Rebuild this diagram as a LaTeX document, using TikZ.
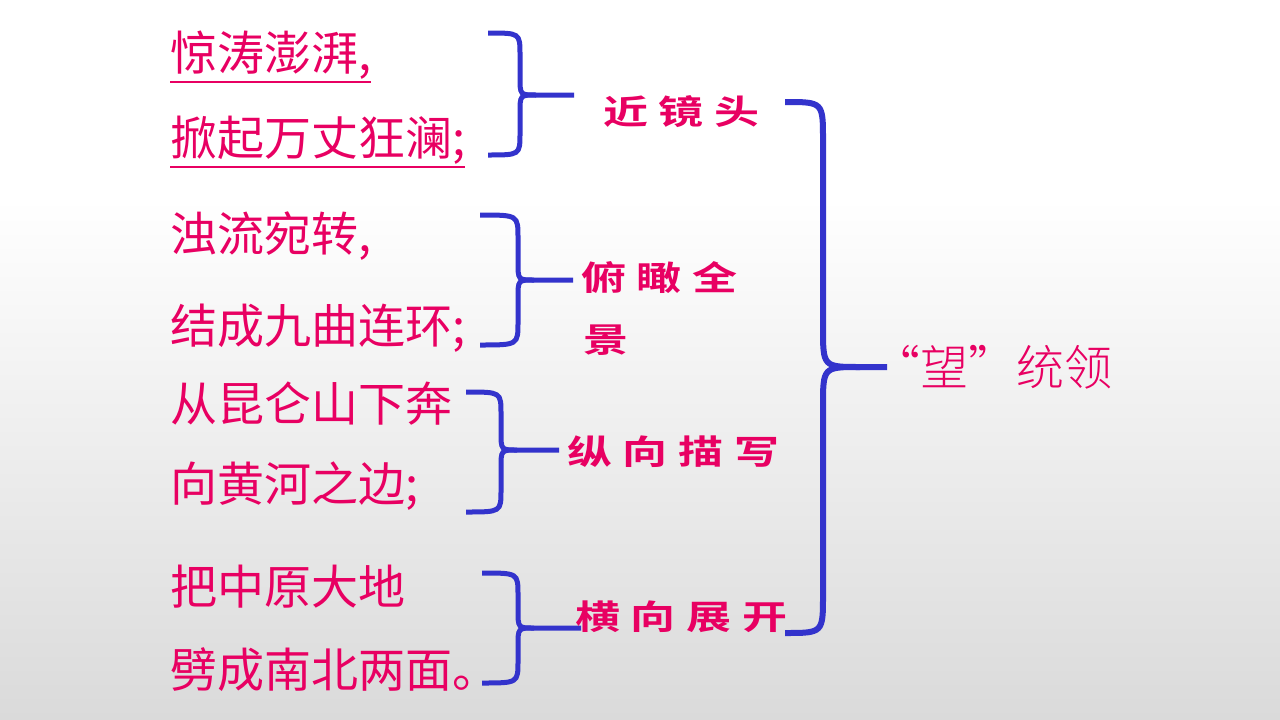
\documentclass[tikz,border=0pt]{standalone}
\usepackage{fontspec}
\newfontfamily\cjk{Noto Sans CJK SC}
\newfontfamily\cjklabel{Noto Sans CJK SC Bold}[LetterSpace=24]
\newfontfamily\cjkthin{Noto Sans CJK SC Light}
\usetikzlibrary{calc}

\definecolor{rose}{RGB}{232,0,98}
\definecolor{braceblue}{RGB}{51,51,204}
\definecolor{bggray}{RGB}{218,218,218}

\tikzset{
  verse/.style={font=\cjk\fontsize{47}{47}\selectfont, text=rose, anchor=west, inner sep=0pt},
  tag/.style={font=\cjklabel\fontsize{45}{45}\selectfont, text=rose, anchor=west, inner sep=0pt, yscale=0.75},
  brace/.style={draw=braceblue, line width=5pt},
  bigbrace/.style={draw=braceblue, line width=6pt}
}

\begin{document}
\begin{tikzpicture}[x=1pt, y=-1pt]

\useasboundingbox (0, 0) rectangle (1280, 720);
\fill[white] (0, 0) rectangle (1280, 200);
\shade[top color=white, bottom color=bggray] (0, 199) rectangle (1280, 720);

\node[verse] (l1) at (170, 55) {惊涛澎湃,};
\node[verse] (l2) at (170, 140) {掀起万丈狂澜;};
\node[verse] (l3) at (170, 236) {浊流宛转,};
\node[verse] (l4) at (170, 328) {结成九曲连环;};
\node[verse] (l5) at (170, 404) {从昆仑山下奔};
\node[verse] (l6) at (170, 486) {向黄河之边;};
\node[verse] (l7) at (170, 587) {把中原大地};
\node[verse] (l8) at (170, 670) {劈成南北两面。};

\draw[rose, line width=2pt] ([yshift=-3pt]l1.south west) -- ([yshift=-3pt]l1.south east);
\draw[rose, line width=2pt] ([yshift=-3pt]l2.south west) -- ([yshift=-3pt]l2.south east);

\draw[brace] (488, 33) .. controls (520, 33) .. (520, 55) -- (520, 77) .. controls (520, 95) .. (536, 95) -- (574, 95);
\draw[brace] (536, 95) .. controls (520, 95) .. (520, 113) -- (520, 133) .. controls (520, 155) .. (488, 155);

\draw[brace] (480, 215) .. controls (518, 215) .. (518, 238) -- (518, 262) .. controls (518, 280) .. (534, 280) -- (573, 280);
\draw[brace] (534, 280) .. controls (518, 280) .. (518, 298) -- (518, 322) .. controls (518, 345) .. (480, 345);

\draw[brace] (466, 392) .. controls (501, 392) .. (501, 414) -- (501, 432) .. controls (501, 450) .. (517, 450) -- (559, 450);
\draw[brace] (517, 450) .. controls (501, 450) .. (501, 468) -- (501, 490) .. controls (501, 512) .. (466, 512);

\draw[brace] (482, 573) .. controls (518, 573) .. (518, 595) -- (518, 610) .. controls (518, 628) .. (534, 628) -- (581, 628);
\draw[brace] (534, 628) .. controls (518, 628) .. (518, 646) -- (518, 661) .. controls (518, 683) .. (482, 683);

\draw[bigbrace] (785, 102) .. controls (823, 102) .. (823, 140) -- (823, 327) .. controls (823, 367) .. (860, 367) -- (887, 367);
\draw[bigbrace] (860, 367) .. controls (823, 367) .. (823, 407) -- (823, 595) .. controls (823, 633) .. (785, 633);

\node[tag] (t1) at (603, 112) {近镜头};
\node[tag] (t2) at (581, 278) {俯瞰全};
\node[tag] (t2b) at (583, 340) {景};
\node[tag] (t3) at (567, 452) {纵向描写};
\node[tag] (t4) at (575, 617) {横向展开};

\node[font=\cjkthin\fontsize{48}{48}\selectfont, text=rose, anchor=west, inner sep=0pt] (wang) at (872, 367) {“望”统领};

\end{tikzpicture}
\end{document}
